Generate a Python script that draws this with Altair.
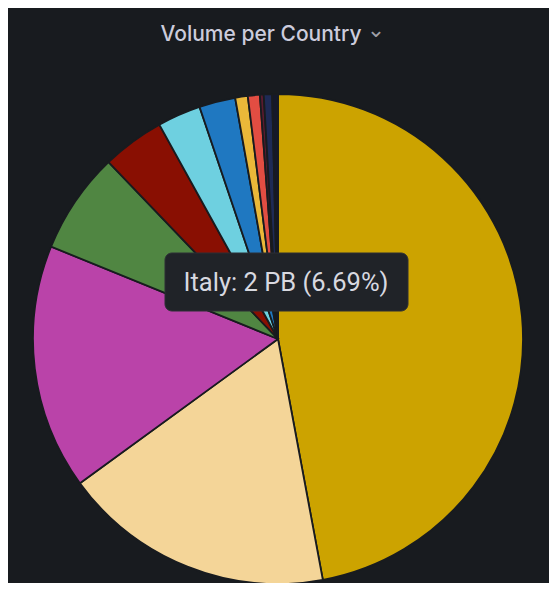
import altair as alt
import pandas as pd

countries = ["United States", "Germany", "France", "Italy", "United Kingdom",
             "Netherlands", "Spain", "Switzerland", "Japan", "Canada",
             "Sweden", "Other"]
share_pct = [47.08, 17.92, 16.17, 6.69, 4.11, 2.86, 2.39, 0.83, 0.79, 0.25, 0.55, 0.38]
colors = ["#CCA300", "#F4D598", "#BA43A9", "#508642", "#890F02", "#6ED0E0",
          "#1F78C1", "#EAB839", "#E24D42", "#5A1A2E", "#1E2A55", "#15182A"]

title_text = "Volume per Country"
tooltip_text = "Italy: 2 PB (6.69%)"

BG = "#181b1f"

df = pd.DataFrame({"country": countries, "share": share_pct,
                   "idx": list(range(len(countries)))})

pie = alt.Chart(df).mark_arc(outerRadius=245, stroke=BG, strokeWidth=1.8).encode(
    theta=alt.Theta("share:Q", stack=True),
    color=alt.Color("country:N", scale=alt.Scale(domain=countries, range=colors), legend=None),
    order=alt.Order("idx:Q"),
    x=alt.value(270),
    y=alt.value(331),
)

title = alt.Chart(pd.DataFrame({"t": [title_text]})).mark_text(
    font="Inter", fontSize=21, fontWeight=500, color="#ccccdc", align="center", baseline="middle"
).encode(text="t:N", x=alt.value(253), y=alt.value(27))

chev = alt.Chart(pd.DataFrame({"t": ["⌄"]})).mark_text(
    font="DejaVu Sans", fontSize=22, color="#9fa0a8", align="center", baseline="middle"
).encode(text="t:N", x=alt.value(368), y=alt.value(22))

box = alt.Chart(pd.DataFrame({"a": [0]})).mark_rect(
    fill="#202328", cornerRadius=7, stroke="#2c2f35", strokeWidth=1
).encode(x=alt.value(157), x2=alt.value(400), y=alt.value(245), y2=alt.value(303))

tip = alt.Chart(pd.DataFrame({"t": [tooltip_text]})).mark_text(
    font="Roboto", fontSize=25.5, color="#d8d9e0", align="center", baseline="middle"
).encode(text="t:N", x=alt.value(278), y=alt.value(275))

chart = alt.layer(pie, title, chev, box, tip).properties(
    width=541, height=575, background=BG, padding=0, autosize="none"
).configure_view(stroke=None)

chart.save("out.html", embed_options={"renderer": "svg", "actions": False})
